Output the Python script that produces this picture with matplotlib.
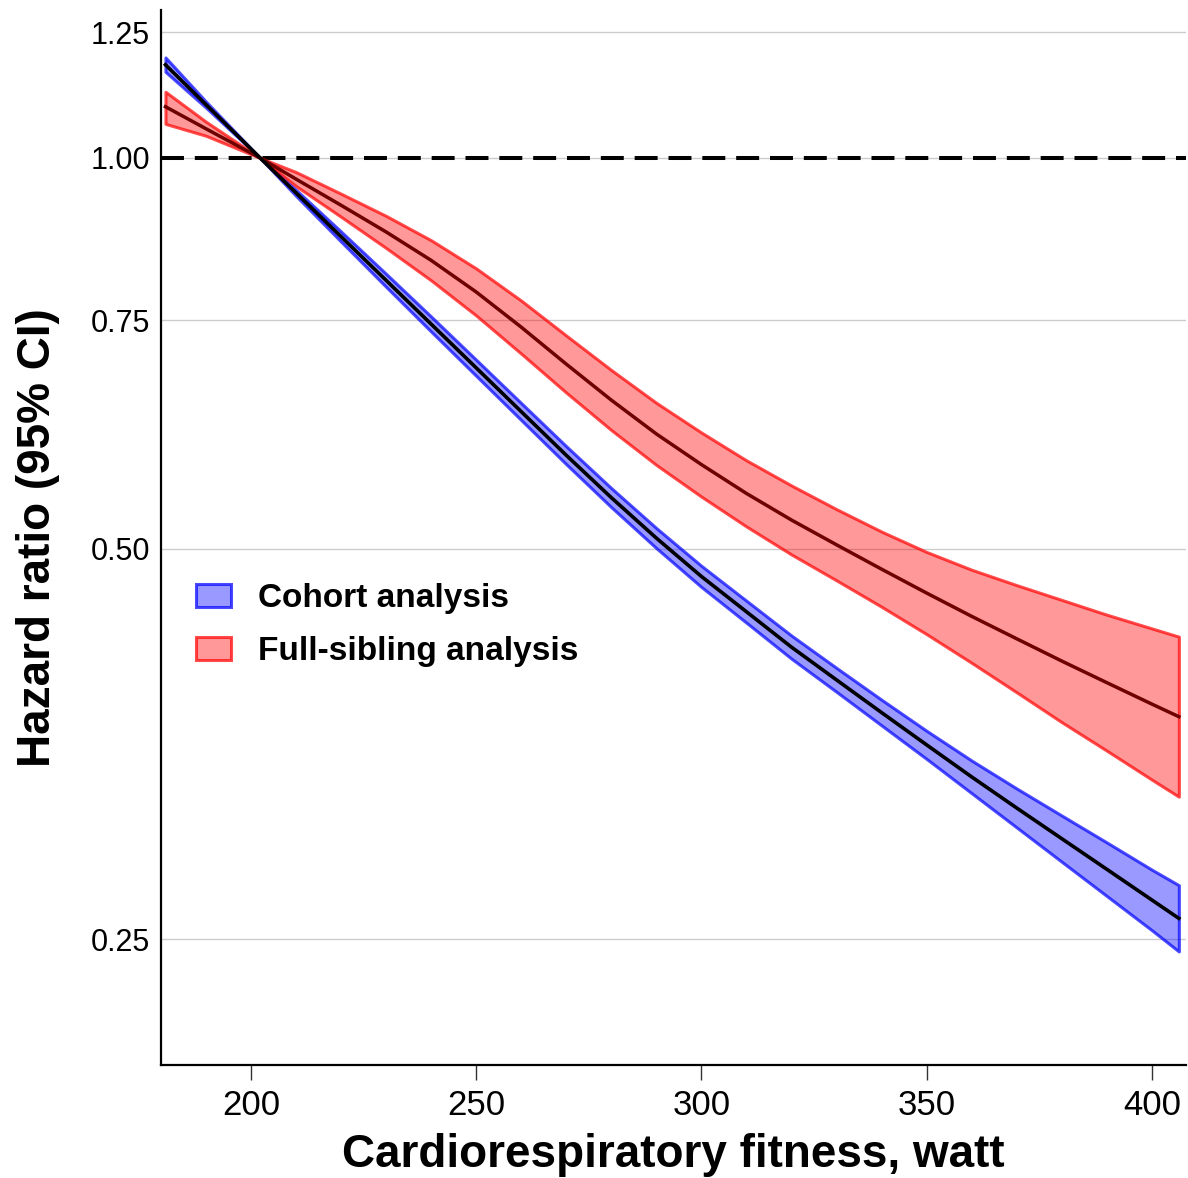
import numpy as np
import matplotlib
matplotlib.use("Agg")
import matplotlib.pyplot as plt
from matplotlib.patches import Patch

plt.rcParams['font.family'] = ['Liberation Sans', 'DejaVu Sans']

# cardiorespiratory fitness (watt)
watt = [181, 190, 202, 210, 220, 230, 240, 250, 260, 270, 280, 290, 300,
        310, 320, 330, 340, 350, 360, 370, 380, 390, 400, 406]

# cohort analysis: hazard ratio and 95% CI
cohort_hr = [1.1796, 1.0990, 1.0, 0.9397, 0.8695, 0.8046, 0.7445, 0.6889, 0.6374, 0.5899,
             0.5472, 0.5093, 0.4758, 0.4469, 0.4197, 0.3960, 0.3737, 0.3529, 0.3334, 0.3155,
             0.2988, 0.2830, 0.2680, 0.2594]
cohort_hi = [1.1950, 1.1049, 1.0, 0.9447, 0.8773, 0.8139, 0.7545, 0.6988, 0.6471, 0.5994,
             0.5565, 0.5184, 0.4848, 0.4557, 0.4284, 0.4045, 0.3823, 0.3618, 0.3432, 0.3266,
             0.3113, 0.2968, 0.2828, 0.2751]
cohort_lo = [1.1650, 1.0932, 1.0, 0.9347, 0.8618, 0.7954, 0.7347, 0.6792, 0.6279, 0.5806,
             0.5380, 0.5003, 0.4670, 0.4383, 0.4112, 0.3877, 0.3653, 0.3442, 0.3239, 0.3048,
             0.2868, 0.2699, 0.2540, 0.2446]

# full-sibling analysis: hazard ratio and 95% CI
sib_hr = [1.0950, 1.0530, 1.0, 0.9630, 0.9193, 0.8768, 0.8337, 0.7882, 0.7405, 0.6935,
          0.6506, 0.6127, 0.5803, 0.5513, 0.5259, 0.5033, 0.4820, 0.4620, 0.4433, 0.4260,
          0.4095, 0.3941, 0.3794, 0.3710]
sib_hi = [1.1244, 1.0662, 1.0, 0.9751, 0.9383, 0.9021, 0.8639, 0.8218, 0.7762, 0.7295,
          0.6862, 0.6474, 0.6142, 0.5846, 0.5591, 0.5361, 0.5152, 0.4969, 0.4815, 0.4685,
          0.4564, 0.4446, 0.4339, 0.4276]
sib_lo = [1.0622, 1.0400, 1.0, 0.9511, 0.9007, 0.8522, 0.8046, 0.7560, 0.7065, 0.6593,
          0.6169, 0.5799, 0.5482, 0.5199, 0.4947, 0.4725, 0.4509, 0.4295, 0.4082, 0.3874,
          0.3674, 0.3493, 0.3318, 0.3219]

yticks = [0.25, 0.50, 0.75, 1.00, 1.25]
xticks = [200, 250, 300, 350, 400]

blue_fill = (0, 0, 1, 0.4)
blue_edge = (0, 0, 1, 0.7)
red_fill = (1, 0, 0, 0.4)
red_edge = (1, 0, 0, 0.7)

fig = plt.figure(figsize=(11.88, 11.78), dpi=100)
ax = fig.add_axes([0.1355, 0.096, 0.8625, 0.8955])

ax.set_yscale('log')
ax.set_ylim(0.2, 1.3)
ax.set_xlim(180, 407.5)

for yt in yticks:
    ax.axhline(yt, color='#cccccc', lw=1.0, zorder=0)
ax.axhline(1.0, color='black', lw=2.9, ls=(0, (5.7, 2.7)), zorder=1)

ax.fill_between(watt, cohort_lo, cohort_hi, facecolor=blue_fill, edgecolor=blue_edge,
                lw=2.2, zorder=2)
ax.fill_between(watt, sib_lo, sib_hi, facecolor=red_fill, edgecolor=red_edge,
                lw=2.2, zorder=2)
ax.plot(watt, sib_hr, color='#6e0000', lw=2.5, zorder=3)
ax.plot(watt, cohort_hr, color='black', lw=2.6, zorder=4)

ax.yaxis.set_major_locator(matplotlib.ticker.FixedLocator(yticks))
ax.yaxis.set_minor_locator(matplotlib.ticker.NullLocator())
ax.set_yticklabels(['%.2f' % v for v in yticks])
ax.set_xticks(xticks)
ax.tick_params(axis='y', length=0, pad=8, labelsize=22)
ax.tick_params(axis='x', length=11, width=1, color='#333333', pad=6, labelsize=25)

for s in ['top', 'right']:
    ax.spines[s].set_visible(False)
ax.spines['left'].set_linewidth(1.6)
ax.spines['bottom'].set_linewidth(1.6)

ax.set_xlabel('Cardiorespiratory fitness, watt', fontsize=33, fontweight='bold', labelpad=8)
ax.set_ylabel('Hazard ratio (95% CI)', fontsize=33, fontweight='bold', labelpad=22)

handles = [Patch(facecolor=blue_fill, edgecolor=blue_edge, lw=2.2, label='Cohort analysis'),
           Patch(facecolor=red_fill, edgecolor=red_edge, lw=2.2, label='Full-sibling analysis')]
leg = ax.legend(handles=handles, loc='center left', bbox_to_anchor=(0.0045, 0.417),
                frameon=False, prop={'size': 24, 'weight': 'bold'},
                handlelength=1.06, handleheight=0.7, handletextpad=0.8, labelspacing=0.65)

fig.savefig('out.png', dpi=100)
